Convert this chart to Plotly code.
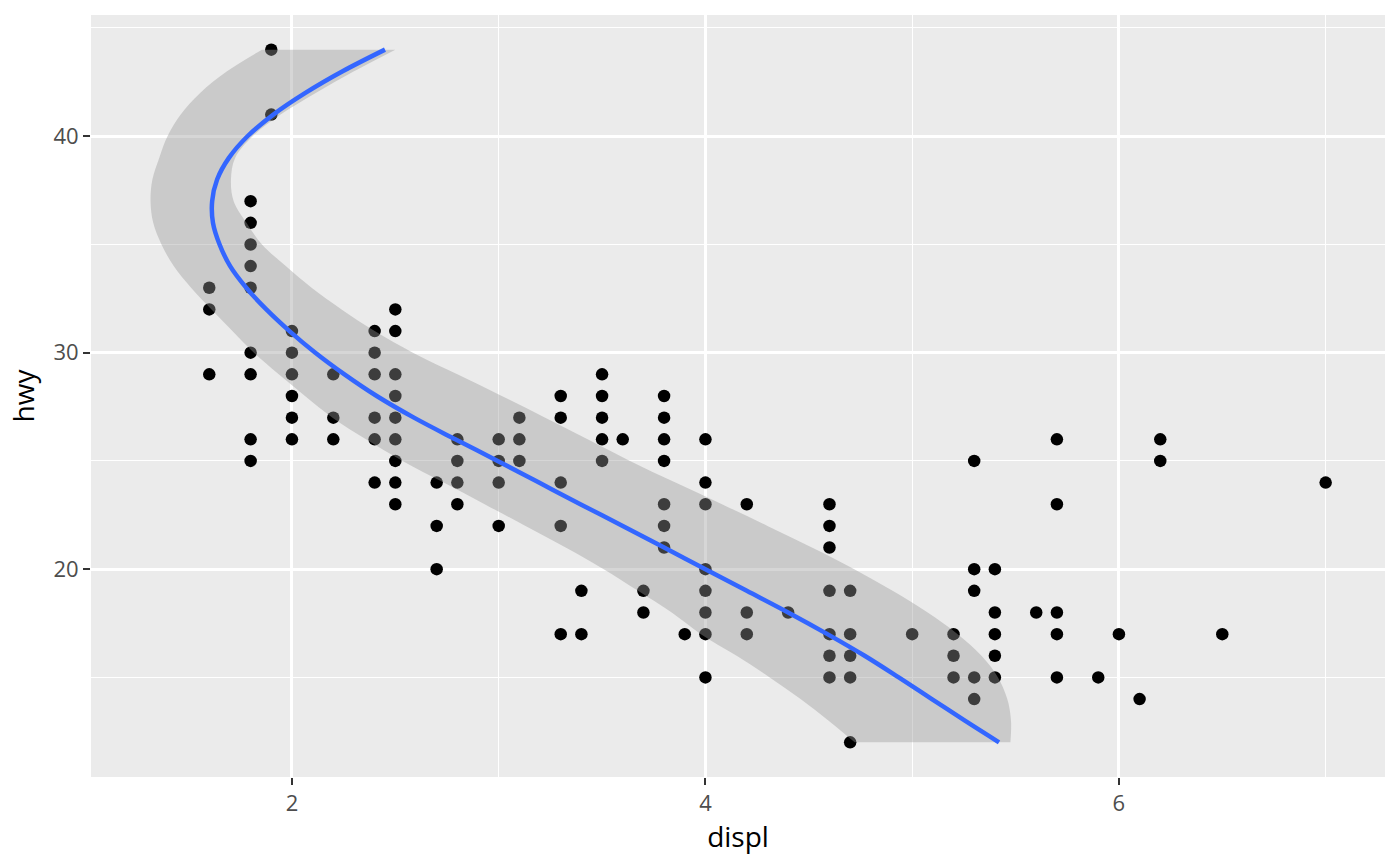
import plotly.graph_objects as go

# ---- scatter data (displ, hwy) ----
displ = [1.6, 1.6, 1.6,
         1.8, 1.8, 1.8, 1.8, 1.8, 1.8, 1.8, 1.8, 1.8,
         1.9, 1.9,
         2.0, 2.0, 2.0, 2.0, 2.0, 2.0,
         2.2, 2.2, 2.2,
         2.4, 2.4, 2.4, 2.4, 2.4, 2.4,
         2.5, 2.5, 2.5, 2.5, 2.5, 2.5, 2.5, 2.5, 2.5,
         2.7, 2.7, 2.7,
         2.8, 2.8, 2.8, 2.8,
         3.0, 3.0, 3.0, 3.0,
         3.1, 3.1, 3.1,
         3.3, 3.3, 3.3, 3.3, 3.3,
         3.4, 3.4,
         3.5, 3.5, 3.5, 3.5, 3.5,
         3.6,
         3.7, 3.7,
         3.8, 3.8, 3.8, 3.8, 3.8, 3.8, 3.8,
         3.9,
         4.0, 4.0, 4.0, 4.0, 4.0, 4.0, 4.0, 4.0,
         4.2, 4.2, 4.2,
         4.4,
         4.6, 4.6, 4.6, 4.6, 4.6, 4.6, 4.6,
         4.7, 4.7, 4.7, 4.7, 4.7,
         5.0,
         5.2, 5.2, 5.2,
         5.3, 5.3, 5.3, 5.3, 5.3,
         5.4, 5.4, 5.4, 5.4, 5.4,
         5.6,
         5.7, 5.7, 5.7, 5.7, 5.7,
         5.9,
         6.0,
         6.1,
         6.2, 6.2,
         6.5,
         7.0]
hwy = [33, 32, 29,
       37, 36, 35, 34, 33, 30, 29, 26, 25,
       44, 41,
       31, 30, 29, 28, 27, 26,
       29, 27, 26,
       31, 30, 29, 27, 26, 24,
       32, 31, 29, 28, 27, 26, 25, 24, 23,
       24, 22, 20,
       26, 25, 24, 23,
       26, 25, 24, 22,
       27, 26, 25,
       28, 27, 24, 22, 17,
       19, 17,
       29, 28, 27, 26, 25,
       26,
       19, 18,
       28, 27, 26, 25, 23, 22, 21,
       17,
       26, 24, 23, 20, 19, 18, 17, 15,
       23, 18, 17,
       18,
       23, 22, 21, 19, 17, 16, 15,
       19, 17, 16, 15, 12,
       17,
       17, 16, 15,
       25, 20, 19, 15, 14,
       20, 18, 17, 16, 15,
       18,
       26, 23, 18, 17, 15,
       15,
       17,
       14,
       26, 25,
       17,
       24]

# ---- smooth (fitted displ as a function of hwy) ----
smooth_hwy = [12, 13, 14, 15, 16, 17, 18, 19, 20, 21, 22, 23, 24, 25, 26, 27,
              28, 29, 30, 31, 32, 33, 34, 35, 36, 37, 38, 39, 40, 41, 42, 43, 44]
smooth_fit = [5.42, 5.255, 5.095, 4.935, 4.77, 4.59, 4.40, 4.20, 4.00, 3.80, 3.60,
              3.395, 3.195, 2.995, 2.79, 2.59, 2.41, 2.254, 2.113, 1.988, 1.876, 1.779,
              1.701, 1.650, 1.618, 1.614, 1.638, 1.695, 1.785, 1.91, 2.065, 2.245, 2.45]
smooth_lo = [4.722, 4.596, 4.46, 4.311, 4.151, 3.978, 3.837, 3.674, 3.508, 3.324, 3.13,
             2.932, 2.734, 2.535, 2.358, 2.196, 2.063, 1.936, 1.816, 1.712, 1.611, 1.512,
             1.428, 1.369, 1.329, 1.316, 1.325, 1.358, 1.398, 1.462, 1.556, 1.686, 1.855]
smooth_hi = [5.475, 5.478, 5.46, 5.415, 5.335, 5.22, 5.075, 4.905, 4.72, 4.515, 4.30,
             4.08, 3.855, 3.635, 3.43, 3.225, 3.015, 2.80, 2.585, 2.40, 2.24, 2.095,
             1.97, 1.855, 1.78, 1.718, 1.705, 1.725, 1.81, 1.945, 2.115, 2.30, 2.50]

x_ticks = [2, 4, 6]
y_ticks = [20, 30, 40]
x_minor = [1, 3, 5, 7]
y_minor = [15, 25, 35, 45]

FONT = "Open Sans"

fig = go.Figure()

fig.add_trace(go.Scatter(
    x=displ, y=hwy, mode="markers",
    marker=dict(color="black", size=12.5, line=dict(width=0)),
    hoverinfo="x+y", showlegend=False))

# confidence band: lower edge, then upper edge filled back to it
fig.add_trace(go.Scatter(
    x=smooth_lo, y=smooth_hwy, mode="lines",
    line=dict(width=0, shape="spline", smoothing=1.0, color="rgba(0,0,0,0)"),
    hoverinfo="skip", showlegend=False))
fig.add_trace(go.Scatter(
    x=smooth_hi, y=smooth_hwy, mode="lines", fill="tonextx",
    fillcolor="rgba(153,153,153,0.4)",
    line=dict(width=0, shape="spline", smoothing=1.0, color="rgba(0,0,0,0)"),
    hoverinfo="skip", showlegend=False))

fig.add_trace(go.Scatter(
    x=smooth_fit, y=smooth_hwy, mode="lines",
    line=dict(color="#3366FF", width=4.5, shape="spline", smoothing=1.0),
    hoverinfo="skip", showlegend=False))

axis_common = dict(
    showgrid=True, gridcolor="white", gridwidth=2.7,
    zeroline=False, showline=False,
    ticks="outside", ticklen=7, tickwidth=2.2, tickcolor="#333333",
    tickfont=dict(family=FONT, size=22, color="#4D4D4D"),
)

fig.update_layout(
    width=1400, height=866,
    margin=dict(l=91, r=15, t=15, b=89),
    paper_bgcolor="white", plot_bgcolor="#EBEBEB",
    font=dict(family=FONT),
    xaxis=dict(range=[1.028, 7.287], tickvals=x_ticks,
               minor=dict(tickvals=x_minor, showgrid=True, gridcolor="white",
                          gridwidth=1.35, ticks=""),
               title=dict(text="displ", font=dict(family=FONT, size=28, color="black"),
                          standoff=0),
               **axis_common),
    yaxis=dict(range=[10.4, 45.6], tickvals=y_ticks,
               minor=dict(tickvals=y_minor, showgrid=True, gridcolor="white",
                          gridwidth=1.35, ticks=""),
               title=dict(text="hwy", font=dict(family=FONT, size=28, color="black"),
                          standoff=10),
               **axis_common),
)

fig.write_html("out.html", config={"displayModeBar": False},
               post_script="document.body.style.margin='0';")
